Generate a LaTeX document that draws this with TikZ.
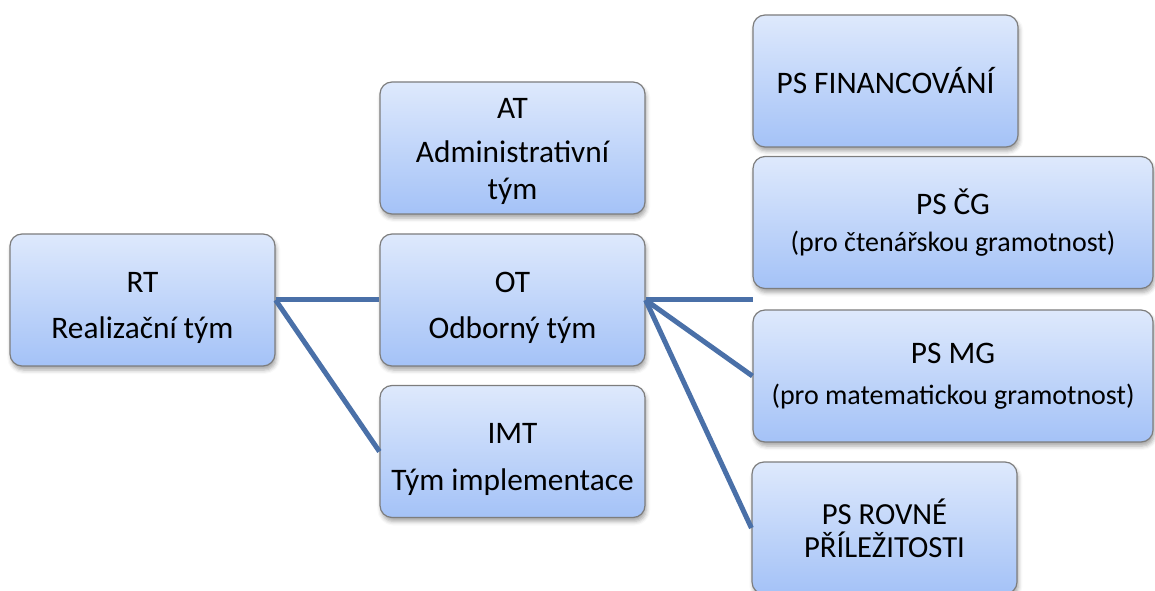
\documentclass[tikz,border=0pt]{standalone}
\usepackage{fontspec}
\setmainfont{Carlito}
\usetikzlibrary{shadows.blur}
\definecolor{boxtop}{RGB}{222,233,252}
\definecolor{boxbottom}{RGB}{164,194,247}
\definecolor{boxline}{RGB}{125,125,125}
\definecolor{linkblue}{RGB}{74,112,168}
\newcommand{\odsaz}[1][27pt]{\rule{0pt}{#1}}
\begin{document}
\begin{tikzpicture}[x=0.75pt,y=0.75pt,yscale=-1,
  team/.style={draw=boxline,line width=0.9pt,rounded corners=9pt,top color=boxtop,bottom color=boxbottom,
    minimum width=198.75pt,minimum height=99pt,align=center,inner sep=2pt,
    font=\fontsize{23.5}{28}\selectfont,
    blur shadow={shadow xshift=1pt,shadow yshift=-3pt,shadow opacity=35,shadow blur radius=3pt}},
  wide/.style={team,minimum width=300pt},
  link/.style={draw=linkblue,line width=3.75pt}]
\useasboundingbox (0,0) rectangle (1155,591);

%Teams
\node[team] (rt) at (142.5,300) {\odsaz RT\\[7pt]Realizační tým};
\node[team] (at) at (512.5,148) {\odsaz[20pt]AT\\[5pt]Administrativní\\tým};
\node[team] (ot) at (512.5,300) {\odsaz OT\\[7pt]Odborný tým};
\node[team] (imt) at (512.5,451.5) {\odsaz IMT\\[7pt]Tým implementace};

%Working groups
\node[team] (fin) at (885.5,81) {PS FINANCOVÁNÍ};
\node[wide] (cg) at (953,222.5) {PS ČG\\[0pt]{\fontsize{21}{27}\selectfont(pro čtenářskou gramotnost)}};
\node[wide] (mg) at (953,376) {PS MG\\[3pt]{\fontsize{21}{27}\selectfont(pro matematickou gramotnost)}};
\node[team,font=\fontsize{23}{25}\selectfont] (rov) at (884.5,528) {PS ROVNÉ\\PŘÍLEŽITOSTI};

%Links
\coordinate (konec) at (753,300);
\draw[link] (rt.east) -- (ot.west);
\draw[link] (rt.east) -- (imt.west);
\draw[link] (ot.east) -- (konec);
\draw[link] (ot.east) -- (mg.west);
\draw[link] (ot.east) -- (rov.west);

\end{tikzpicture}
\end{document}
